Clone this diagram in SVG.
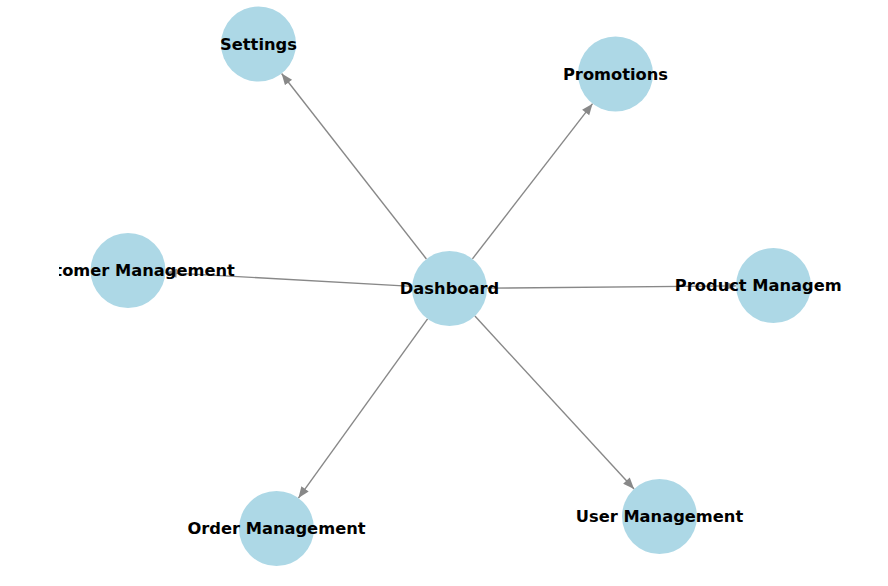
<svg xmlns="http://www.w3.org/2000/svg" width="888" height="586" viewBox="0 0 888 586">
<defs>
<style>
.node{fill:#add8e6;}
.edge{stroke:#888888;stroke-width:1.4;fill:none;marker-end:url(#arr);}
.lbl{font-family:"DejaVu Sans","Liberation Sans",sans-serif;font-weight:bold;font-size:16.3px;fill:#000;text-anchor:middle;dominant-baseline:central;}
</style>
<marker id="arr" markerUnits="userSpaceOnUse" markerWidth="12" markerHeight="10" viewBox="0 0 9 8" refX="9" refY="4" orient="auto">
<path d="M0,0.4 L9,4 L0,7.6 Z" fill="#888888"/>
</marker>
<clipPath id="ax"><rect x="59" y="0" width="783" height="586"/></clipPath>
</defs>
<rect x="0" y="0" width="888" height="586" fill="#fff"/>
<g clip-path="url(#ax)">
<g id="edges">
<line class="edge" x1="426.4" y1="258.95" x2="281.6" y2="73.55"/>
<line class="edge" x1="472.45" y1="258.84" x2="592.55" y2="103.66"/>
<line class="edge" x1="412.06" y1="286.4" x2="165.44" y2="272.6"/>
<line class="edge" x1="487" y1="288.15" x2="736" y2="285.85"/>
<line class="edge" x1="427.57" y1="318.92" x2="298.43" y2="498.08"/>
<line class="edge" x1="474.9" y1="316.08" x2="634.09" y2="488.92"/>
</g>
<g id="node-dashboard"><circle class="node" cx="449.5" cy="288.5" r="37.5"/><text class="lbl" x="449.5" y="288.5">Dashboard</text></g>
<g id="node-settings"><circle class="node" cx="258.5" cy="44" r="37.5"/><text class="lbl" x="258.5" y="44">Settings</text></g>
<g id="node-promotions"><circle class="node" cx="615.5" cy="74" r="37.5"/><text class="lbl" x="615.5" y="74">Promotions</text></g>
<g id="node-customer"><circle class="node" cx="128" cy="270.5" r="37.5"/><text class="lbl" x="128" y="270.5">Customer Management</text></g>
<g id="node-product"><circle class="node" cx="773.5" cy="285.5" r="37.5"/><text class="lbl" x="773.5" y="285.5">Product Management</text></g>
<g id="node-order"><circle class="node" cx="276.5" cy="528.5" r="37.5"/><text class="lbl" x="276.5" y="528.5">Order Management</text></g>
<g id="node-user"><circle class="node" cx="659.5" cy="516.5" r="37.5"/><text class="lbl" x="659.5" y="516.5">User Management</text></g>
</g>
</svg>
